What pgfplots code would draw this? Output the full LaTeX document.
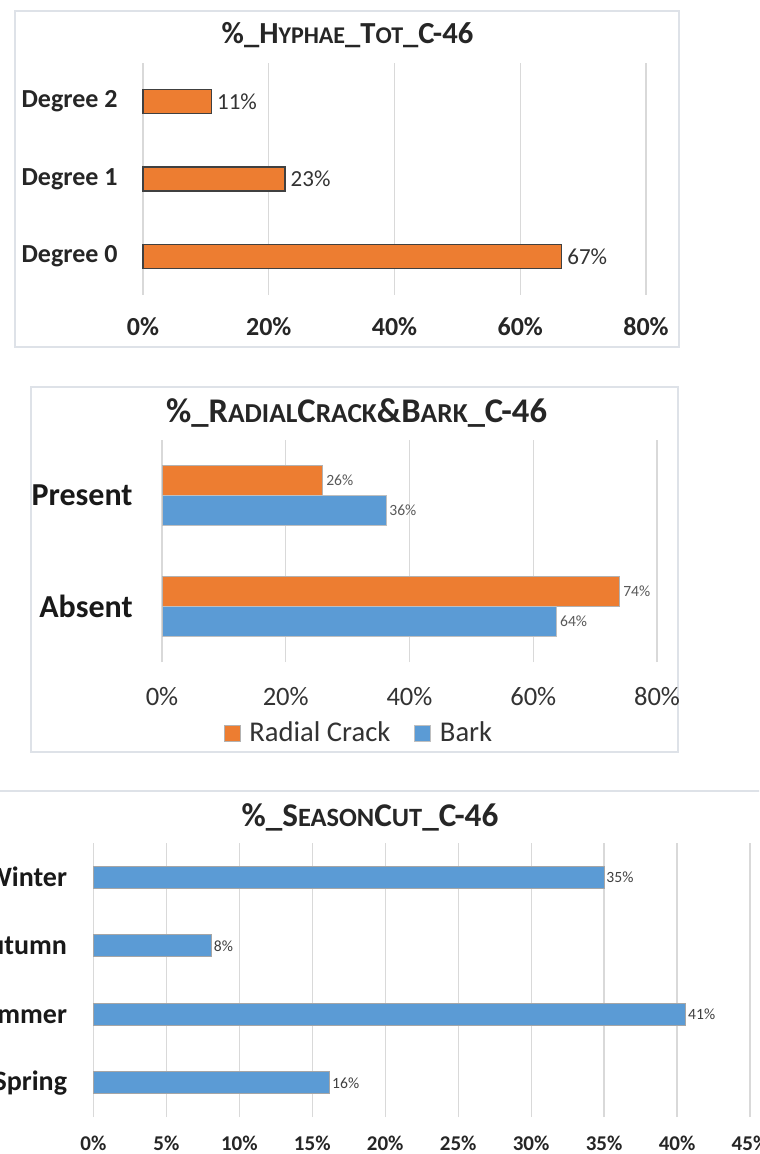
\documentclass[border=0pt]{standalone}
\usepackage{pgfplots}
\pgfplotsset{compat=1.18}
\usepackage{fontspec}
\setmainfont{Carlito}
\definecolor{xorange}{RGB}{237,125,49}
\definecolor{xblue}{RGB}{91,155,213}
\definecolor{xgrid}{RGB}{217,217,217}
\definecolor{xframe}{RGB}{222,226,232}
\newcommand{\fs}[2]{\fontsize{#1}{#2}\selectfont}
\pgfplotsset{
  excelbar/.style={
    xbar, scale only axis, anchor=north west,
    axis line style={draw=none},
    major tick length=0pt, tick style={draw=none},
    xmajorgrids, ymajorgrids=false, grid style={xgrid, line width=0.6pt},
    every tick label/.append style={inner sep=0pt},
    xticklabel style={anchor=center},
    yticklabel style={anchor=east},
    clip=false,
    point meta=explicit symbolic,
    nodes near coords,
    every node near coord/.append style={anchor=west, inner sep=0pt},
  }
}
\begin{document}
\begin{tikzpicture}
\useasboundingbox (0,0) rectangle (379.5pt,-577pt);
\clip (0,0) rectangle (379.5pt,-577pt);
\fill[white] (0,0) rectangle (379.5pt,-577pt);
% panel frames
\draw[xframe, line width=0.6pt] (7.5pt,-5.5pt) rectangle (339.5pt,-173.5pt);
\draw[xframe, line width=0.6pt] (15.5pt,-193.5pt) rectangle (339pt,-376pt);
\draw[xframe, line width=0.6pt] (-5pt,-395.5pt) rectangle (385pt,-600pt);
% titles
\node[font=\bfseries\fs{15.3}{17}, text=black!85] at (173.75pt,-17.5pt)
  {\%\_H{\fs{12}{14}YPHAE}\_T{\fs{12}{14}OT}\_C-46};
\node[font=\bfseries\fs{17.3}{19}, text=black!85] at (178.3pt,-206.5pt)
  {\%\_R{\fs{13.7}{15}ADIAL}C{\fs{13.7}{15}RACK}\&B{\fs{13.7}{15}ARK}\_C-46};
\node[font=\bfseries\fs{16.6}{18}, text=black!85] at (185pt,-408.5pt)
  {\%\_S{\fs{13.2}{15}EASON}C{\fs{13.2}{15}UT}\_C-46};

% ---------- panel 1
\begin{axis}[excelbar, at={(71.5pt,-31.5pt)},
  width=251.5pt, height=116pt,
  xmin=0, xmax=80, ymin=-0.5, ymax=2.5,
  xtick={0,20,40,60,80}, xticklabels={0\%,20\%,40\%,60\%,80\%},
  ytick={0,1,2}, yticklabels={Degree 0,Degree 1,Degree 2},
  xticklabel style={font=\bfseries\fs{13}{15}, text=black!85, yshift=-16pt},
  yticklabel style={font=\bfseries\fs{13}{15}, text=black!85, xshift=-12.5pt},
  bar width=12pt,
  every node near coord/.append style={font=\fs{11.5}{13}, text=black!80, xshift=2.5pt},
]
\addplot[fill=xorange, draw=black!75, line width=0.6pt]
  coordinates {(66.6,0) [67\%] (22.6,1) [23\%] (10.9,2) [11\%]};
\end{axis}

% ---------- panel 2
\begin{axis}[excelbar, at={(81pt,-220pt)},
  width=247.5pt, height=111pt,
  xmin=0, xmax=80, ymin=-0.5, ymax=1.5,
  xtick={0,20,40,60,80}, xticklabels={0\%,20\%,40\%,60\%,80\%},
  ytick={0,1}, yticklabels={Absent,Present},
  xticklabel style={font=\fs{13.3}{15}, text=black!80, yshift=-17.5pt},
  yticklabel style={font=\bfseries\fs{16}{18}, text=black!90, xshift=-14.5pt},
  bar width=15pt,
  every node near coord/.append style={font=\fs{7.8}{9}, text=black!65, xshift=1.5pt},
  legend style={draw=none, fill=none, at={(0.4,-0.32)}, anchor=center,
    legend columns=2, font=\fs{14.3}{16}, text=black!80,
    /tikz/every even column/.append style={column sep=10pt},
    /tikz/every odd column/.append style={column sep=2.5pt}},
  legend image code/.code={\draw[#1, line width=0.3pt] (0pt,-4pt) rectangle (8pt,4pt);},
]
\addplot[fill=xorange, draw=black!30, line width=0.4pt, bar shift=7.5pt]
  coordinates {(74,0) [74\%] (26,1) [26\%]};
\addlegendentry{Radial Crack}
\addplot[fill=xblue, draw=black!25, line width=0.4pt, bar shift=-7.5pt]
  coordinates {(63.8,0) [64\%] (36.2,1) [36\%]};
\addlegendentry{Bark}
\end{axis}

% ---------- panel 3
\begin{axis}[excelbar, at={(46.7pt,-421.5pt)},
  width=328.3pt, height=137pt,
  xmin=0, xmax=45, ymin=-0.5, ymax=3.5,
  xtick={0,5,10,15,20,25,30,35,40,45},
  xticklabels={0\%,5\%,10\%,15\%,20\%,25\%,30\%,35\%,40\%,45\%},
  ytick={0,1,2,3}, yticklabels={Spring,Summer,Autumn,Winter},
  xticklabel style={font=\bfseries\fs{10.5}{12}, text=black!85, yshift=-13pt},
  yticklabel style={font=\bfseries\fs{14}{16}, text=black!90, xshift=-13pt},
  bar width=11pt,
  every node near coord/.append style={font=\fs{7.8}{9}, text=black!75, xshift=1pt},
]
\addplot[fill=xblue, draw=black!35, line width=0.4pt]
  coordinates {(16.2,0) [16\%] (40.6,1) [41\%] (8.1,2) [8\%] (35.0,3) [35\%]};
\end{axis}
\end{tikzpicture}
\end{document}
